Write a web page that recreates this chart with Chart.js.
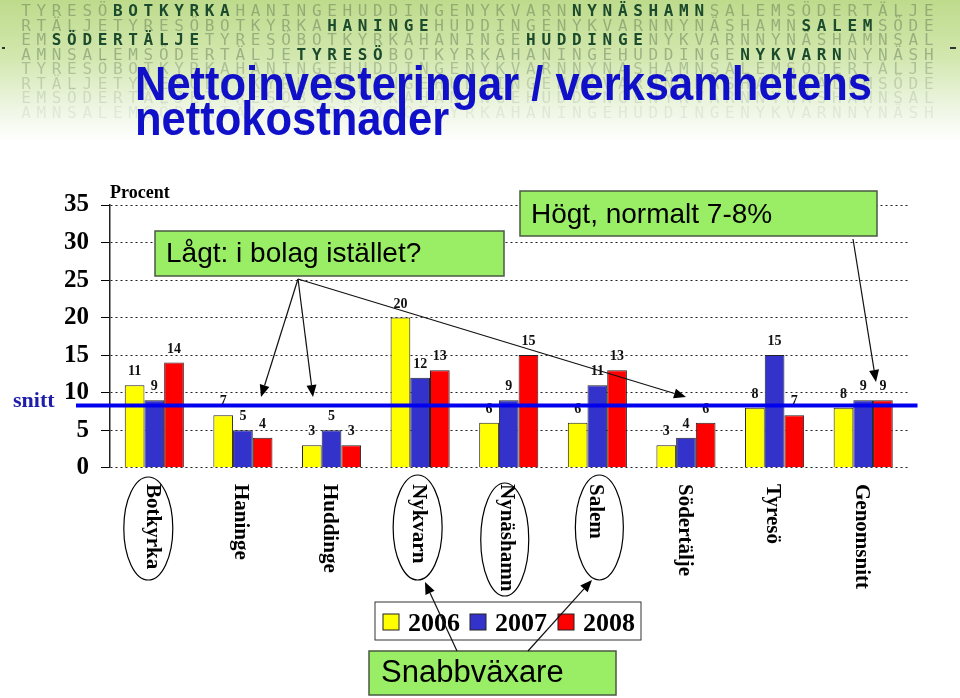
<!DOCTYPE html>
<html>
<head>
<meta charset="utf-8">
<script src="https://cdn.jsdelivr.net/npm/chart.js@4.4.1/dist/chart.umd.min.js"></script>
<style>
  html, body { margin: 0; padding: 0; background: #fff; }
  #chart { display: block; }
</style>
</head>
<body>
<canvas id="chart" width="960" height="698"></canvas>
<script>
const categories = ['Botkyrka', 'Haninge', 'Huddinge', 'Nykvarn', 'Nynäshamn', 'Salem', 'Södertälje', 'Tyresö', 'Genomsnitt'];
const seriesLabels = ['2006', '2007', '2008'];
const values2006 = [11, 7, 3, 20, 6, 6, 3, 8, 8];
const values2007 = [9, 5, 5, 12, 9, 11, 4, 15, 9];
const values2008 = [14, 4, 3, 13, 15, 13, 6, 7, 9];
const yTicks = [0, 5, 10, 15, 20, 25, 30, 35];
const snittValue = 8.3;

const titleLines = ['Nettoinvesteringar / verksamhetens', 'nettokostnader'];
const watermarkRows = [
    ['TYRESÖBOTKYRKAHANINGEHUDDINGENYKVARNNYNÄSHAMNSALEMSÖDERTÄLJE', ['BOTKYRKA', 'NYNÄSHAMN']],
    ['RTÄLJETYRESÖBOTKYRKAHANINGEHUDDINGENYKVARNNYNÄSHAMNSALEMSÖDE', ['HANINGE', 'SALEM']],
    ['EMSÖDERTÄLJETYRESÖBOTKYRKAHANINGEHUDDINGENYKVARNNYNÄSHAMNSAL', ['SÖDERTÄLJE', 'HUDDINGE']],
    ['AMNSALEMSÖDERTÄLJETYRESÖBOTKYRKAHANINGEHUDDINGENYKVARNNYNÄSH', ['TYRESÖ', 'NYKVARN']],
    ['TYRESÖBOTKYRKAHANINGEHUDDINGENYKVARNNYNÄSHAMNSALEMSÖDERTÄLJE', []],
    ['RTÄLJETYRESÖBOTKYRKAHANINGEHUDDINGENYKVARNNYNÄSHAMNSALEMSÖDE', []],
    ['EMSÖDERTÄLJETYRESÖBOTKYRKAHANINGEHUDDINGENYKVARNNYNÄSHAMNSAL', []],
    ['AMNSALEMSÖDERTÄLJETYRESÖBOTKYRKAHANINGEHUDDINGENYKVARNNYNÄSH', []]
];
const circled = ['Botkyrka', 'Nykvarn', 'Nynäshamn', 'Salem'];

const SERIF = '"Liberation Serif", "Times New Roman", serif';
const SANS = '"Liberation Sans", Arial, sans-serif';

function drawArrow(ctx, x1, y1, x2, y2) {
    const a = Math.atan2(y2 - y1, x2 - x1);
    const len = 12, half = 5;
    const bx = x2 - len * Math.cos(a), by = y2 - len * Math.sin(a);
    ctx.beginPath();
    ctx.moveTo(x1, y1);
    ctx.lineTo(bx, by);
    ctx.stroke();
    ctx.beginPath();
    ctx.moveTo(x2, y2);
    ctx.lineTo(bx + half * Math.sin(a), by - half * Math.cos(a));
    ctx.lineTo(bx - half * Math.sin(a), by + half * Math.cos(a));
    ctx.closePath();
    ctx.fill();
}

function drawBox(ctx, x, y, w, h, fill) {
    ctx.fillStyle = fill;
    ctx.fillRect(x, y, w, h);
    ctx.strokeStyle = '#4a5a40';
    ctx.lineWidth = 1.5;
    ctx.strokeRect(x, y, w, h);
}

// header banner, drawn under everything else
const headerPlugin = {
    id: 'header',
    beforeDraw(chart) {
        const ctx = chart.ctx;
        ctx.save();
        ctx.fillStyle = '#fff';
        ctx.fillRect(0, 0, chart.width, chart.height);

        const g = ctx.createLinearGradient(0, 0, 0, 142);
        g.addColorStop(0, '#bedb8c');
        g.addColorStop(0.4, '#d2e7ae');
        g.addColorStop(0.75, '#edf5e2');
        g.addColorStop(1, '#ffffff');
        ctx.fillStyle = g;
        ctx.fillRect(0, 0, chart.width, 142);

        ctx.textAlign = 'center';
        ctx.textBaseline = 'middle';
        const alphas = [0.36, 0.36, 0.36, 0.36, 0.28, 0.2, 0.14, 0.09];
        watermarkRows.forEach(([text, bold], r) => {
            const chars = Array.from(text);
            const isBold = new Array(chars.length).fill(false);
            bold.forEach(w => {
                const i = text.indexOf(w);
                for (let k = i; k < i + w.length; k++) isBold[k] = true;
            });
            const y = 12 + r * 14.5;
            chars.forEach((c, k) => {
                if (isBold[k]) {
                    ctx.font = 'bold 16px "DejaVu Sans Mono", monospace';
                    ctx.fillStyle = '#1b4a2c';
                } else {
                    ctx.font = '16px "DejaVu Sans Mono", monospace';
                    ctx.fillStyle = `rgba(60,85,60,${alphas[r]})`;
                }
                ctx.fillText(c, 26 + k * 15.3, y);
            });
        });

        ctx.fillStyle = '#333';
        ctx.fillRect(2, 47, 3, 2);
        ctx.fillRect(950, 47, 6, 2);

        ctx.font = 'bold 48px ' + SANS;
        ctx.fillStyle = '#1010c8';
        ctx.textAlign = 'left';
        ctx.textBaseline = 'alphabetic';
        const sx = 737 / ctx.measureText(titleLines[0]).width;
        ctx.save();
        ctx.translate(135, 0);
        ctx.scale(sx, 1);
        ctx.fillText(titleLines[0], 0, 100);
        ctx.fillText(titleLines[1], 0, 135);
        ctx.restore();
        ctx.restore();
    }
};

const overlayPlugin = {
    id: 'overlay',
    afterDatasetsDraw(chart) {
        const ctx = chart.ctx;
        const y = chart.scales.y;
        const x = chart.scales.x;
        const area = chart.chartArea;
        ctx.save();

        // value labels
        ctx.font = 'bold 14px ' + SERIF;
        ctx.fillStyle = '#111';
        ctx.textAlign = 'center';
        ctx.textBaseline = 'alphabetic';
        chart.data.datasets.forEach((ds, d) => {
            chart.getDatasetMeta(d).data.forEach((bar, i) => {
                ctx.fillText(String(ds.data[i]), bar.x, y.getPixelForValue(ds.data[i]) - 10);
            });
        });

        // average line
        const sy = y.getPixelForValue(snittValue);
        ctx.strokeStyle = '#0000ee';
        ctx.lineWidth = 4;
        ctx.beginPath();
        ctx.moveTo(area.left - 34, sy);
        ctx.lineTo(area.right + 10, sy);
        ctx.stroke();
        ctx.font = 'bold 22px ' + SERIF;
        ctx.fillStyle = '#1e1eaa';
        ctx.textAlign = 'left';
        ctx.fillText('snitt', 13, sy + 2);

        ctx.font = 'bold 18px ' + SERIF;
        ctx.fillStyle = '#000';
        ctx.fillText('Procent', area.left, 198);

        // category labels, rotated clockwise
        ctx.font = 'bold 21px ' + SERIF;
        ctx.textBaseline = 'middle';
        categories.forEach((c, i) => {
            ctx.save();
            ctx.translate(x.getPixelForValue(i) - 2, 484);
            ctx.rotate(Math.PI / 2);
            ctx.fillText(c, 0, 0);
            ctx.restore();
        });

        // circled categories
        const ell = { Botkyrka: [-6, 528.5, 24.5, 51.5], Nykvarn: [-2.5, 527.5, 24.5, 52.5],
                      'Nynäshamn': [-4, 539.5, 24, 56.5], Salem: [2, 527.5, 24, 52.5] };
        ctx.strokeStyle = '#000';
        ctx.lineWidth = 1.2;
        circled.forEach(c => {
            const [dx, cy, rx, ry] = ell[c];
            ctx.beginPath();
            ctx.ellipse(x.getPixelForValue(categories.indexOf(c)) + dx, cy, rx, ry, 0, 0, Math.PI * 2);
            ctx.stroke();
        });

        // callout boxes
        ctx.textBaseline = 'alphabetic';
        drawBox(ctx, 155, 231, 349, 45, '#99ee66');
        drawBox(ctx, 520, 191, 357, 45, '#99ee66');
        ctx.fillStyle = '#000';
        ctx.font = '28px ' + SANS;
        ctx.fillText('Lågt: i bolag istället?', 166, 262);
        ctx.fillText('Högt, normalt 7-8%', 531, 223);

        // legend
        ctx.fillStyle = '#fff';
        ctx.fillRect(375, 602, 266, 38);
        ctx.strokeStyle = '#333';
        ctx.lineWidth = 1;
        ctx.strokeRect(375, 602, 266, 38);
        const legendX = [383, 470, 558];
        ctx.font = 'bold 26px ' + SERIF;
        chart.data.datasets.forEach((ds, d) => {
            ctx.fillStyle = ds.backgroundColor;
            ctx.fillRect(legendX[d], 614, 16, 16);
            ctx.strokeStyle = '#222';
            ctx.strokeRect(legendX[d], 614, 16, 16);
            ctx.fillStyle = '#000';
            ctx.fillText(ds.label, legendX[d] + 25, 631);
        });

        drawBox(ctx, 369, 651, 247, 44, '#99ee66');
        ctx.fillStyle = '#000';
        ctx.font = '31px ' + SANS;
        ctx.fillText('Snabbväxare', 381, 682);

        // arrows
        ctx.strokeStyle = '#111';
        ctx.fillStyle = '#000';
        ctx.lineWidth = 1.2;
        drawArrow(ctx, 298, 279, 261, 397);
        drawArrow(ctx, 298, 279, 313, 397);
        drawArrow(ctx, 298, 279, 686, 397);
        drawArrow(ctx, 853, 239, 876, 382);
        drawArrow(ctx, 457, 651, 425, 582);
        drawArrow(ctx, 528, 651, 592, 580);

        ctx.restore();
    }
};

new Chart(document.getElementById('chart'), {
    type: 'bar',
    data: {
        labels: categories,
        datasets: [
            { label: seriesLabels[0], data: values2006, backgroundColor: '#ffff00' },
            { label: seriesLabels[1], data: values2007, backgroundColor: '#3333cc' },
            { label: seriesLabels[2], data: values2008, backgroundColor: '#ff0000' }
        ]
    },
    options: {
        responsive: false,
        animation: false,
        devicePixelRatio: 1,
        layout: { padding: { top: 205, right: 52.5, bottom: 230.3, left: 0 } },
        datasets: {
            bar: { categoryPercentage: 0.667, barPercentage: 1, borderWidth: 1, borderColor: '#222' }
        },
        plugins: { legend: { display: false }, tooltip: { enabled: false } },
        scales: {
            x: { display: false },
            y: {
                min: yTicks[0],
                max: yTicks[yTicks.length - 1],
                afterBuildTicks: s => { s.ticks = yTicks.map(v => ({ value: v })); },
                afterFit: s => { s.width = 110; },
                ticks: {
                    color: '#000',
                    padding: 12,
                    font: { family: SERIF, weight: 'bold', size: 25 }
                },
                grid: { color: '#222', lineWidth: 1, tickLength: 9, tickColor: '#000' },
                border: { display: true, color: '#222', width: 1.5, dash: [2, 3] }
            }
        }
    },
    plugins: [headerPlugin, overlayPlugin]
});
</script>
</body>
</html>
